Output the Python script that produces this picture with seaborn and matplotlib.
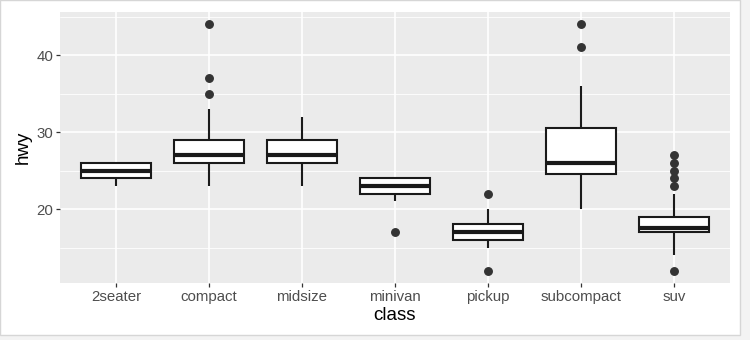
import matplotlib
matplotlib.use("Agg")
import matplotlib.pyplot as plt
import matplotlib.patches as mpatches
from matplotlib.ticker import MultipleLocator
import pandas as pd
import seaborn as sns

# Highway mileage observations per vehicle class
classes = ["2seater", "compact", "midsize", "minivan", "pickup", "subcompact", "suv"]
hwy_2seater = [23, 24, 25, 26, 26]
hwy_compact = [23, 24, 25, 26, 26, 26, 26, 27, 27, 27, 28, 29, 29, 33, 35, 37, 44]
hwy_midsize = [23, 26, 27, 29, 32]
hwy_minivan = [17, 21, 22, 22, 23, 23, 24, 24, 24]
hwy_pickup = [12, 15, 16, 16, 17, 17, 18, 20, 22]
hwy_subcompact = [20, 21, 24, 24, 25, 26, 26, 26, 27, 28, 29, 32, 36, 41, 44]
hwy_suv = [12, 14, 15, 16, 16, 17, 17, 17, 17, 17, 17, 17, 17, 17,
           18, 18, 18, 18, 19, 19, 19, 19, 22, 23, 24, 25, 26, 27]

groups = [hwy_2seater, hwy_compact, hwy_midsize, hwy_minivan,
          hwy_pickup, hwy_subcompact, hwy_suv]
df = pd.DataFrame({
    "class": [c for c, g in zip(classes, groups) for _ in g],
    "hwy": [v for g in groups for v in g],
})

sns.set_theme(style="white")
plt.rcParams["font.family"] = ["Liberation Sans", "DejaVu Sans"]

fig = plt.figure(figsize=(7.5, 3.4), dpi=100)
fig.patch.set_facecolor("#f3f3f3")
fig.patches.append(mpatches.Rectangle(
    (0.0, 5 / 340), 740 / 750, 1 - 5 / 340, transform=fig.transFigure,
    facecolor="white", edgecolor="#d6d6d6", linewidth=1.0, zorder=-10))

ax = fig.add_axes([60 / 750, 1 - 283 / 340, 670 / 750, 271 / 340])
ax.set_facecolor("#EBEBEB")

sns.boxplot(
    data=df, x="class", y="hwy", order=classes, ax=ax,
    color="white", linecolor="#1a1a1a", width=0.75, linewidth=1.5,
    showcaps=False,
    medianprops=dict(linewidth=3.0, color="#1a1a1a"),
    flierprops=dict(marker="o", markersize=5.4, markerfacecolor="#333333",
                    markeredgecolor="#333333"),
    zorder=3,
)

ax.set_ylim(10.4, 45.6)
ax.set_xlim(-0.6, 6.6)
ax.yaxis.set_major_locator(MultipleLocator(10))
ax.yaxis.set_minor_locator(MultipleLocator(5))

ax.grid(which="major", color="white", linewidth=1.2, zorder=0)
ax.grid(which="minor", axis="y", color="white", linewidth=0.6, zorder=0)
ax.set_axisbelow(True)

for s in ax.spines.values():
    s.set_visible(False)

ax.tick_params(axis="both", which="major", length=3, width=0.9, color="#333333",
               labelcolor="#4D4D4D", labelsize=10.8, pad=2, bottom=True, left=True)
ax.tick_params(axis="y", which="minor", length=0)

ax.set_xlabel("class", fontsize=13.5, color="black", labelpad=2)
ax.set_ylabel("hwy", fontsize=13.5, color="black", labelpad=3)

fig.savefig("out.png", dpi=100, facecolor=fig.get_facecolor())
